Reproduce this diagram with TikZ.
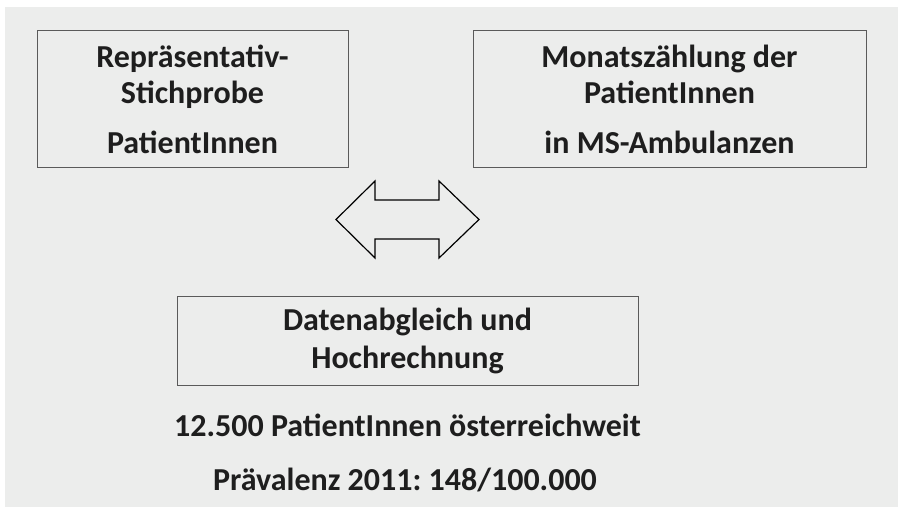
\documentclass[tikz,border=0pt]{standalone}
\usepackage{fontspec}
\setmainfont{Carlito}
\usetikzlibrary{positioning,calc}
\definecolor{bggray}{RGB}{236,237,236}
\definecolor{boxline}{RGB}{90,90,90}
\definecolor{textdark}{RGB}{30,30,30}
\frenchspacing

\begin{document}
\begin{tikzpicture}[x=1pt, y=-1pt,
    every node/.style={font=\fontsize{32}{36}\selectfont\bfseries, text=textdark},
    infobox/.style={draw=boxline, line width=0.9pt, align=center, inner sep=0pt},
    swaparrow/.style={draw=black, line width=1.2pt, fill=bggray, line join=miter}]
  % background with white margin top and left
  \fill[white] (0,0) rectangle (898,507);
  \fill[bggray] (5,7) rectangle (898,507);
  \useasboundingbox (0,0) rectangle (898,507);

  % upper boxes
  \node[infobox, minimum width=311pt, minimum height=137pt] (stich) at (192.5,99)
    {Repräsentativ-\\Stichprobe\\[14pt]PatientInnen};
  \node[infobox, minimum width=393pt, minimum height=137pt] (zaehl) at (669.5,99)
    {Monatszählung der\\PatientInnen\\[14pt]in MS-Ambulanzen};

  % double arrow between them
  \coordinate (mid) at (407.5,219.5);
  \draw[swaparrow] ($(mid)+(-71.5,0)$) -- ++(39,-38.5) -- ++(0,19) -- ++(64,0)
    -- ++(0,-19) -- ++(40,38.5) -- ++(-40,38.5) -- ++(0,-19) -- ++(-64,0)
    -- ++(0,19) -- cycle;

  % result box
  \node[infobox, minimum width=461pt, minimum height=89pt, font=\fontsize{32}{38}\selectfont\bfseries]
    (hoch) at (407.5,340.5) {Datenabgleich und\\Hochrechnung};

  % results
  \node (anzahl) at (407.5,425) {12.500 PatientInnen österreichweit};
  \node (praev) at (405,480) {Prävalenz 2011: 148/100.000};
\end{tikzpicture}
\end{document}
